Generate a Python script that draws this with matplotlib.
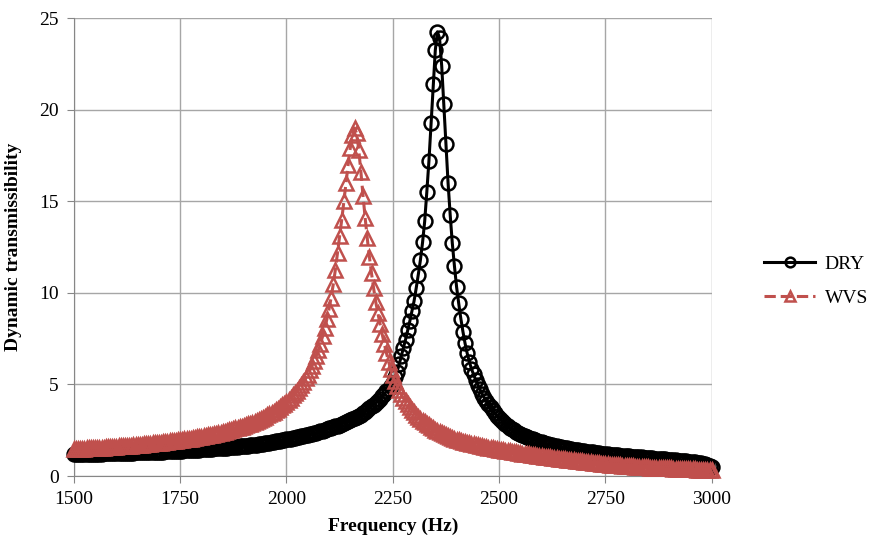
import numpy as np
import matplotlib
matplotlib.use("Agg")
import matplotlib.pyplot as plt

# frequency grid of the measurement (5 Hz steps)
freq = np.arange(1500, 3001, 5)

# DRY transmissibility
dry = [
    1.20, 1.20, 1.20, 1.21, 1.21, 1.21, 1.21, 1.22, 1.22, 1.22,
    1.22, 1.23, 1.23, 1.23, 1.24, 1.24, 1.24, 1.24, 1.25, 1.25,
    1.25, 1.25, 1.26, 1.26, 1.27, 1.27, 1.27, 1.28, 1.28, 1.29,
    1.29, 1.29, 1.30, 1.30, 1.31, 1.31, 1.31, 1.32, 1.32, 1.33,
    1.33, 1.34, 1.34, 1.35, 1.35, 1.36, 1.36, 1.37, 1.38, 1.38,
    1.39, 1.39, 1.40, 1.41, 1.41, 1.42, 1.43, 1.43, 1.44, 1.45,
    1.46, 1.47, 1.47, 1.48, 1.49, 1.50, 1.51, 1.52, 1.52, 1.53,
    1.54, 1.55, 1.56, 1.57, 1.58, 1.59, 1.60, 1.61, 1.62, 1.63,
    1.64, 1.65, 1.67, 1.68, 1.69, 1.71, 1.72, 1.74, 1.75, 1.77,
    1.79, 1.81, 1.83, 1.85, 1.87, 1.89, 1.91, 1.93, 1.96, 1.98,
    2.00, 2.02, 2.05, 2.07, 2.10, 2.12, 2.15, 2.17, 2.20, 2.22,
    2.25, 2.28, 2.31, 2.34, 2.37, 2.41, 2.44, 2.48, 2.52, 2.56,
    2.60, 2.64, 2.68, 2.72, 2.76, 2.81, 2.86, 2.91, 2.96, 3.01,
    3.06, 3.12, 3.17, 3.23, 3.29, 3.36, 3.43, 3.51, 3.60, 3.70,
    3.80, 3.90, 4.00, 4.11, 4.23, 4.35, 4.48, 4.62, 4.77, 4.93,
    5.10, 5.40, 5.70, 6.10, 6.55, 7.00, 7.45, 7.95, 8.45, 9.00,
    9.55, 10.25, 11.00, 11.80, 12.75, 13.90, 15.50, 17.20, 19.25, 21.40,
    23.25, 24.25, 23.90, 22.40, 20.30, 18.10, 16.00, 14.25, 12.70, 11.46,
    10.33, 9.43, 8.60, 7.88, 7.24, 6.70, 6.25, 5.85, 5.55, 5.25,
    4.98, 4.73, 4.50, 4.29, 4.10, 3.92, 3.75, 3.59, 3.44, 3.30,
    3.17, 3.06, 2.95, 2.85, 2.75, 2.65, 2.57, 2.50, 2.43, 2.36,
    2.30, 2.25, 2.19, 2.14, 2.09, 2.04, 2.00, 1.96, 1.92, 1.88,
    1.84, 1.81, 1.77, 1.74, 1.71, 1.68, 1.65, 1.63, 1.60, 1.58,
    1.55, 1.53, 1.51, 1.48, 1.46, 1.44, 1.42, 1.40, 1.38, 1.37,
    1.35, 1.33, 1.32, 1.30, 1.29, 1.27, 1.26, 1.24, 1.23, 1.21,
    1.20, 1.19, 1.17, 1.16, 1.15, 1.14, 1.13, 1.12, 1.11, 1.10,
    1.09, 1.08, 1.07, 1.06, 1.05, 1.04, 1.03, 1.02, 1.01, 1.00,
    0.99, 0.98, 0.97, 0.96, 0.95, 0.94, 0.93, 0.92, 0.91, 0.90,
    0.89, 0.88, 0.87, 0.86, 0.85, 0.84, 0.83, 0.82, 0.80, 0.79,
    0.78, 0.77, 0.76, 0.74, 0.72, 0.70, 0.67, 0.64, 0.60, 0.56,
    0.52,
]

# WVS transmissibility
wvs = [
    1.47, 1.48, 1.48, 1.49, 1.49, 1.50, 1.51, 1.51, 1.52, 1.52,
    1.53, 1.54, 1.54, 1.55, 1.56, 1.57, 1.58, 1.58, 1.59, 1.60,
    1.61, 1.62, 1.62, 1.63, 1.64, 1.65, 1.66, 1.67, 1.68, 1.69,
    1.70, 1.71, 1.72, 1.73, 1.74, 1.75, 1.76, 1.78, 1.79, 1.80,
    1.82, 1.83, 1.85, 1.86, 1.88, 1.89, 1.90, 1.92, 1.93, 1.95,
    1.96, 1.98, 2.00, 2.01, 2.03, 2.05, 2.07, 2.09, 2.11, 2.13,
    2.15, 2.17, 2.20, 2.22, 2.25, 2.27, 2.30, 2.32, 2.35, 2.37,
    2.40, 2.43, 2.46, 2.49, 2.53, 2.56, 2.60, 2.63, 2.67, 2.70,
    2.74, 2.78, 2.83, 2.87, 2.92, 2.97, 3.02, 3.07, 3.13, 3.18,
    3.24, 3.31, 3.38, 3.45, 3.52, 3.60, 3.68, 3.77, 3.86, 3.95,
    4.05, 4.16, 4.28, 4.40, 4.53, 4.67, 4.83, 4.99, 5.16, 5.34,
    5.54, 5.77, 6.01, 6.27, 6.56, 6.88, 7.23, 7.63, 8.06, 8.56,
    9.11, 9.74, 10.46, 11.27, 12.20, 13.10, 14.00, 15.00, 16.00, 17.00,
    17.90, 18.60, 19.00, 18.70, 17.80, 16.60, 15.30, 14.10, 12.97, 11.97,
    11.06, 10.24, 9.50, 8.88, 8.30, 7.75, 7.22, 6.72, 6.25, 5.85,
    5.50, 5.20, 4.93, 4.68, 4.46, 4.26, 4.08, 3.91, 3.76, 3.62,
    3.48, 3.36, 3.24, 3.13, 3.03, 2.94, 2.85, 2.77, 2.69, 2.61,
    2.54, 2.47, 2.41, 2.35, 2.29, 2.23, 2.18, 2.13, 2.08, 2.03,
    1.98, 1.95, 1.91, 1.88, 1.85, 1.82, 1.79, 1.76, 1.74, 1.71,
    1.68, 1.66, 1.63, 1.61, 1.58, 1.56, 1.54, 1.51, 1.49, 1.47,
    1.45, 1.43, 1.41, 1.39, 1.37, 1.35, 1.33, 1.31, 1.29, 1.27,
    1.25, 1.23, 1.22, 1.20, 1.18, 1.17, 1.15, 1.14, 1.12, 1.11,
    1.09, 1.07, 1.06, 1.04, 1.03, 1.01, 0.99, 0.98, 0.96, 0.95,
    0.93, 0.92, 0.90, 0.89, 0.87, 0.86, 0.85, 0.83, 0.82, 0.80,
    0.79, 0.78, 0.76, 0.75, 0.73, 0.72, 0.71, 0.69, 0.68, 0.66,
    0.65, 0.64, 0.63, 0.62, 0.61, 0.60, 0.59, 0.58, 0.57, 0.56,
    0.55, 0.54, 0.53, 0.53, 0.52, 0.51, 0.50, 0.49, 0.49, 0.48,
    0.47, 0.46, 0.46, 0.45, 0.45, 0.44, 0.44, 0.43, 0.43, 0.42,
    0.42, 0.42, 0.41, 0.41, 0.40, 0.40, 0.40, 0.39, 0.39, 0.38,
    0.38, 0.37, 0.37, 0.36, 0.36, 0.35, 0.35, 0.34, 0.34, 0.33,
    0.33,
]

x_ticks = [1500, 1750, 2000, 2250, 2500, 2750, 3000]
y_ticks = [0, 5, 10, 15, 20, 25]

plt.rcParams['font.family'] = ['Liberation Serif', 'DejaVu Serif']

fig = plt.figure(figsize=(8.69, 5.46), dpi=100)
ax = fig.add_axes([0.085, 0.128, 0.734, 0.839])

red = '#C0504D'
ax.plot(freq, dry, '-', color='black', lw=2.2, marker='o', ms=10,
        mfc='none', mec='black', mew=1.8, label='DRY', zorder=3, clip_on=False)
ax.plot(freq, wvs, '--', color=red, lw=2.2, marker='^', ms=10,
        mfc='none', mec=red, mew=1.8, label='WVS', zorder=4, clip_on=False)

ax.set_xlim(1500, 3000)
ax.set_ylim(0, 25)
ax.set_xticks(x_ticks)
ax.set_yticks(y_ticks)
ax.grid(True, color='#A6A6A6', lw=1.0)
ax.set_axisbelow(True)
for s in ['top', 'right']:
    ax.spines[s].set_visible(False)
for s in ['left', 'bottom']:
    ax.spines[s].set_color('#868686')
ax.tick_params(direction='out', length=5, color='#868686',
               labelsize=14, pad=6)
ax.set_xlabel('Frequency (Hz)', fontsize=14, fontweight='bold', labelpad=7)
ax.set_ylabel('Dynamic transmissibility', fontsize=14, fontweight='bold', labelpad=12)

ax.legend(loc='center left', bbox_to_anchor=(1.055, 0.425), frameon=False,
          fontsize=14, handlelength=2.6, handletextpad=0.5,
          labelspacing=0.85, markerscale=0.7)

plt.savefig('out.png', dpi=100)
